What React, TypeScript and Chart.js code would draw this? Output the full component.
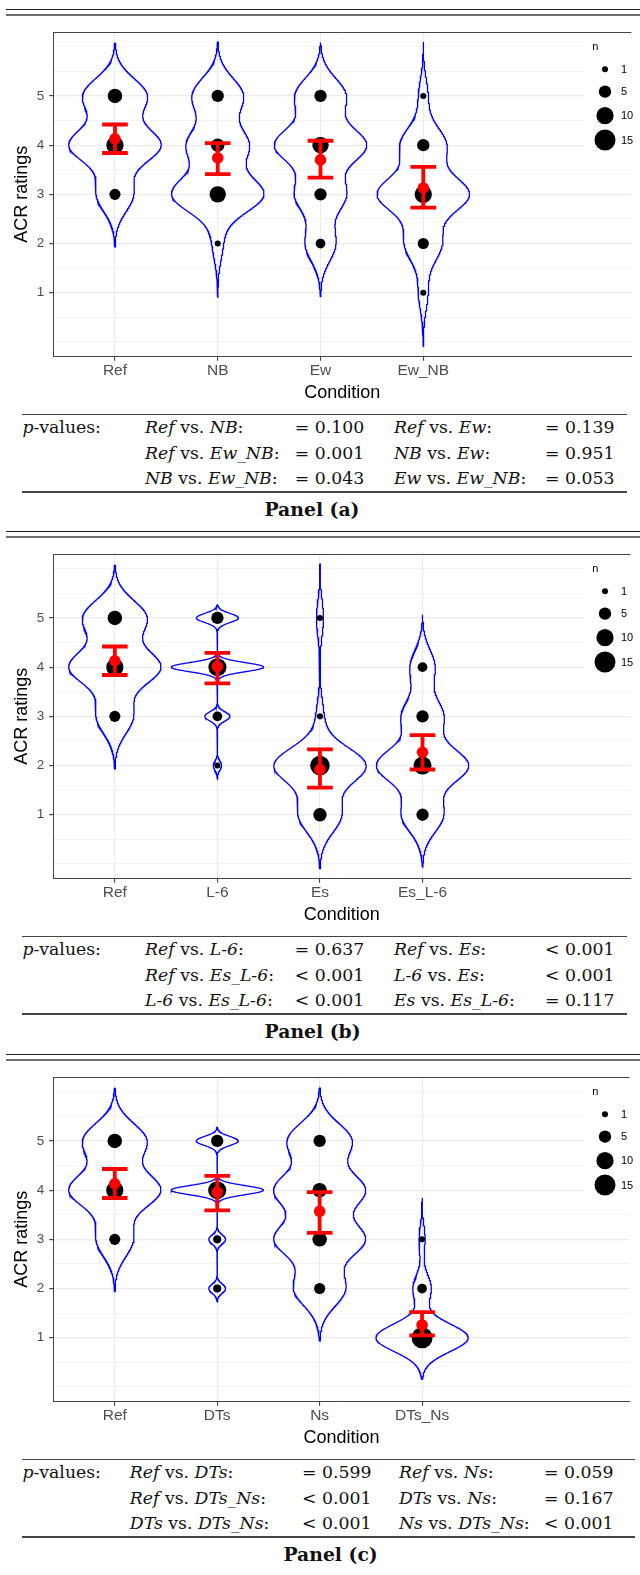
import React, { useEffect, useRef } from "react";
import { Chart, registerables } from "chart.js";

Chart.register(...registerables);

// ---------------- data ----------------
const RATINGS = [1, 2, 3, 4, 5];
const Y_LABELED = [1, 2, 3, 4, 5];
const Y_GRID = [0, 0.5, 1, 1.5, 2, 2.5, 3, 3.5, 4, 4.5, 5, 5.5, 6];
const SIZE_LEGEND = [1, 5, 10, 15];

// Panel (a)
const CONDITIONS_A = ["Ref", "NB", "Ew", "Ew_NB"];
const COUNTS_A_REF = [0, 0, 4, 10, 7];
const COUNTS_A_NB = [0, 1, 9, 6, 5];
const COUNTS_A_EW = [0, 3, 5, 9, 5];
const COUNTS_A_EWNB = [1, 4, 10, 5, 1];
const MEAN_A = [4.13, 3.74, 3.7, 3.13];
const CI_LOW_A = [3.84, 3.41, 3.34, 2.73];
const CI_HIGH_A = [4.42, 4.04, 4.09, 3.56];

// Panel (b)
const CONDITIONS_B = ["Ref", "L-6", "Es", "Es_L-6"];
const COUNTS_B_REF = [0, 0, 4, 10, 7];
const COUNTS_B_L6 = [0, 1, 3, 11, 5];
const COUNTS_B_ES = [6, 13, 1, 0, 1];
const COUNTS_B_ESL6 = [5, 11, 5, 3, 0];
const MEAN_B = [4.13, 4.01, 1.92, 2.27];
const CI_LOW_B = [3.84, 3.67, 1.55, 1.92];
const CI_HIGH_B = [4.42, 4.29, 2.33, 2.62];

// Panel (c)
const CONDITIONS_C = ["Ref", "DTs", "Ns", "DTs_Ns"];
const COUNTS_C_REF = [0, 0, 4, 10, 7];
const COUNTS_C_DTS = [0, 2, 2, 11, 5];
const COUNTS_C_NS = [0, 4, 7, 7, 5];
const COUNTS_C_DTSNS = [15, 3, 1, 0, 0];
const MEAN_C = [4.13, 3.96, 3.57, 1.26];
const CI_LOW_C = [3.84, 3.59, 3.13, 1.05];
const CI_HIGH_C = [4.43, 4.29, 3.96, 1.52];

// p-value tables: [first, second, value]
const PVALS_A = [
  [["Ref", "NB", "= 0.100"], ["Ref", "Ew", "= 0.139"]],
  [["Ref", "Ew_NB", "= 0.001"], ["NB", "Ew", "= 0.951"]],
  [["NB", "Ew_NB", "= 0.043"], ["Ew", "Ew_NB", "= 0.053"]],
];
const PVALS_B = [
  [["Ref", "L-6", "= 0.637"], ["Ref", "Es", "< 0.001"]],
  [["Ref", "Es_L-6", "< 0.001"], ["L-6", "Es", "< 0.001"]],
  [["L-6", "Es_L-6", "< 0.001"], ["Es", "Es_L-6", "= 0.117"]],
];
const PVALS_C = [
  [["Ref", "DTs", "= 0.599"], ["Ref", "Ns", "= 0.059"]],
  [["Ref", "DTs_Ns", "< 0.001"], ["DTs", "Ns", "= 0.167"]],
  [["DTs", "DTs_Ns", "< 0.001"], ["Ns", "DTs_Ns", "< 0.001"]],
];

// ---------------- styling / layout ----------------
const SANS = '"Liberation Sans", Arial, Helvetica, sans-serif';
const SERIF = '"DejaVu Serif", "Liberation Serif", serif';
const CANVAS_TOP = 18;
const CANVAS_W = 640;
const CANVAS_H = 390;
const PLOT_TOP = 32;
const PLOT_LEFT = 53.3;
const PLOT_BOTTOM = 356.7;
const X_MIN = 0.4;
const X_MAX = 6.025;
const Y_MIN = -0.3;
const Y_MAX = 6.3;
const VIOLIN_HALF = 0.45;
const CAP_HALF = 0.125;
const LEGEND_ROW_Y = [37.3, 59.7, 83.7, 108];

function sizeRadius(n: number) {
  return Math.sqrt(2 + 7.2 * n);
}

function expand(counts: number[]) {
  const out: number[] = [];
  counts.forEach((c, j) => {
    for (let k = 0; k < c; k++) out.push(RATINGS[j]);
  });
  return out;
}

function quantile7(sorted: number[], p: number) {
  const h = (sorted.length - 1) * p;
  const lo = Math.floor(h);
  const hi = Math.ceil(h);
  return sorted[lo] + (h - lo) * (sorted[hi] - sorted[lo]);
}

function bwNrd0(x: number[]) {
  const n = x.length;
  const mean = x.reduce((a, b) => a + b, 0) / n;
  const sd = Math.sqrt(x.reduce((a, b) => a + (b - mean) * (b - mean), 0) / (n - 1));
  const s = [...x].sort((a, b) => a - b);
  const iqr = quantile7(s, 0.75) - quantile7(s, 0.25);
  let lo = Math.min(sd, iqr / 1.34);
  if (!lo) lo = sd || Math.abs(s[0]) || 1;
  return 0.9 * lo * Math.pow(n, -0.2);
}

function violinOutline(counts: number[], xc: number) {
  const obs = expand(counts);
  const bw = bwNrd0(obs);
  const lo = Math.min(...obs) - 3 * bw;
  const hi = Math.max(...obs) + 3 * bw;
  const N = 512;
  const ys: number[] = [];
  const ds: number[] = [];
  for (let k = 0; k < N; k++) {
    const y = lo + ((hi - lo) * k) / (N - 1);
    let d = 0;
    for (const o of obs) {
      const z = (y - o) / bw;
      d += Math.exp(-0.5 * z * z);
    }
    ys.push(y);
    ds.push(d);
  }
  const m = Math.max(...ds);
  const right = ys.map((y, k) => ({ x: xc + (VIOLIN_HALF * ds[k]) / m, y }));
  const left = ys.map((y, k) => ({ x: xc - (VIOLIN_HALF * ds[k]) / m, y })).reverse();
  return [...right, ...left, right[0]];
}

const overlayPlugin = {
  id: "overlay",
  afterDraw(chart: any) {
    const ctx = chart.ctx as CanvasRenderingContext2D;
    const { top, left, right } = chart.chartArea;
    ctx.save();
    // size legend
    ctx.fillStyle = "#FFFFFF";
    ctx.fillRect(584, top + 2, right - 584, 122);
    ctx.fillStyle = "#000000";
    ctx.font = `11px ${SANS}`;
    ctx.textBaseline = "middle";
    ctx.textAlign = "left";
    ctx.fillText("n", 592.3, top + 15.3);
    SIZE_LEGEND.forEach((n, k) => {
      const cy = top + LEGEND_ROW_Y[k];
      ctx.beginPath();
      ctx.arc(605, cy, sizeRadius(n), 0, Math.PI * 2);
      ctx.fill();
      ctx.fillText(String(n), 621, cy + 0.5);
    });
    // top border of panel
    ctx.strokeStyle = "#444444";
    ctx.lineWidth = 1;
    ctx.beginPath();
    const yTop = Math.round(top) + 0.5;
    ctx.moveTo(left, yTop);
    ctx.lineTo(right, yTop);
    ctx.stroke();
    ctx.restore();
  },
};

function buildConfig(conds: string[], counts: number[][], means: number[], lo: number[], hi: number[]) {
  const datasets: any[] = [];
  datasets.push({
    type: "scatter",
    data: means.map((m, i) => ({ x: i + 1, y: m })),
    pointRadius: 5.8,
    pointBackgroundColor: "#FF0000",
    pointBorderWidth: 0,
    borderWidth: 0,
    order: 0,
  });
  conds.forEach((_, i) => {
    const x = i + 1;
    const segs = [
      [{ x, y: lo[i] }, { x, y: hi[i] }],
      [{ x: x - CAP_HALF, y: lo[i] }, { x: x + CAP_HALF, y: lo[i] }],
      [{ x: x - CAP_HALF, y: hi[i] }, { x: x + CAP_HALF, y: hi[i] }],
    ];
    segs.forEach((s) =>
      datasets.push({
        type: "scatter",
        data: s,
        showLine: true,
        borderColor: "#FF0000",
        borderWidth: 3.8,
        pointRadius: 0,
        fill: false,
        order: 1,
      })
    );
  });
  const dots: any[] = [];
  counts.forEach((row, i) =>
    row.forEach((n, j) => {
      if (n > 0) dots.push({ x: i + 1, y: RATINGS[j], r: sizeRadius(n) });
    })
  );
  datasets.push({
    type: "bubble",
    data: dots,
    backgroundColor: "#000000",
    borderWidth: 0,
    order: 2,
  });
  counts.forEach((row, i) =>
    datasets.push({
      type: "scatter",
      data: violinOutline(row, i + 1),
      showLine: true,
      borderColor: "#0000FF",
      borderWidth: 1.3,
      pointRadius: 0,
      fill: false,
      tension: 0,
      order: 3,
    })
  );

  const isMajor = (v: number) => Y_LABELED.includes(v);

  return {
    type: "scatter",
    data: { datasets },
    plugins: [overlayPlugin],
    options: {
      animation: false,
      responsive: false,
      devicePixelRatio: 1,
      events: [],
      layout: { padding: { top: PLOT_TOP - CANVAS_TOP, right: 0, bottom: 0, left: 0 } },
      plugins: { legend: { display: false }, tooltip: { enabled: false } },
      scales: {
        x: {
          type: "linear",
          min: X_MIN,
          max: X_MAX,
          afterBuildTicks: (ax: any) => {
            ax.ticks = conds.map((_, i) => ({ value: i + 1 }));
          },
          afterFit: (ax: any) => {
            ax.height = CANVAS_TOP + CANVAS_H - PLOT_BOTTOM;
          },
          ticks: {
            autoSkip: false,
            maxRotation: 0,
            padding: 1,
            color: "#4D4D4D",
            font: { family: SANS, size: 15.5 },
            callback: (v: number) => conds[Math.round(v) - 1] ?? "",
          },
          grid: { color: "#EBEBEB", lineWidth: 1.1, tickLength: 4, tickColor: "#444444" },
          border: { display: true, color: "#444444", width: 1 },
          title: {
            display: true,
            text: "Condition",
            color: "#000000",
            font: { family: SANS, size: 18 },
            padding: { top: 0, bottom: 4.5 },
          },
        },
        y: {
          type: "linear",
          min: Y_MIN,
          max: Y_MAX,
          afterBuildTicks: (ax: any) => {
            ax.ticks = Y_GRID.map((v) => ({ value: v }));
          },
          afterFit: (ax: any) => {
            ax.width = PLOT_LEFT;
          },
          ticks: {
            autoSkip: false,
            padding: 5,
            color: "#4D4D4D",
            font: { family: SANS, size: 13.5 },
            callback: (v: number) => (isMajor(v) ? String(v) : ""),
          },
          grid: {
            color: (c: any) => (c.tick && isMajor(c.tick.value) ? "#EBEBEB" : "#F2F2F2"),
            lineWidth: (c: any) => (c.tick && isMajor(c.tick.value) ? 1.2 : 0.9),
            tickLength: 4,
            tickColor: (c: any) => (c.tick && isMajor(c.tick.value) ? "#444444" : "rgba(0,0,0,0)"),
          },
          border: { display: true, color: "#444444", width: 1 },
          title: {
            display: true,
            text: "ACR ratings",
            color: "#000000",
            font: { family: SANS, size: 18 },
            padding: { top: 10.9, bottom: 0 },
          },
        },
      },
    },
  };
}

type PanelProps = {
  top: number;
  conds: string[];
  counts: number[][];
  means: number[];
  lo: number[];
  hi: number[];
  pvals: string[][][];
  cols: number[];
  lineRight: number;
  label: string;
  labelCenter: number;
};

function Pair({ a, b }: { a: string; b: string }) {
  return (
    <span>
      <i>{a}</i> vs. <i>{b}</i>:
    </span>
  );
}

function Panel(p: PanelProps) {
  const ref = useRef<HTMLCanvasElement | null>(null);
  useEffect(() => {
    if (!ref.current) return;
    const chart = new Chart(ref.current, buildConfig(p.conds, p.counts, p.means, p.lo, p.hi) as any);
    return () => chart.destroy();
  }, []);

  const rowY = [426.7, 452.7, 478.3];
  const cell = (left: number, y: number, content: any, key: string) => (
    <div
      key={key}
      style={{
        position: "absolute",
        left,
        top: y - 11,
        height: 22,
        lineHeight: "22px",
        fontFamily: SERIF,
        fontSize: 17.3,
        color: "#111",
        whiteSpace: "nowrap",
      }}
    >
      {content}
    </div>
  );

  return (
    <div style={{ position: "absolute", left: 0, top: p.top, width: 640, height: 522 }}>
      <div style={{ position: "absolute", left: 6, top: 8.5, width: 634, height: 1.6, background: "#222" }} />
      <div style={{ position: "absolute", left: 6, top: 14.2, width: 634, height: 2, background: "#707070" }} />
      <canvas
        ref={ref}
        width={CANVAS_W}
        height={CANVAS_H}
        style={{ position: "absolute", left: 0, top: CANVAS_TOP, width: CANVAS_W, height: CANVAS_H }}
      />
      <div style={{ position: "absolute", left: 22, top: 413.6, width: p.lineRight - 22, height: 1.5, background: "#444" }} />
      {cell(22.4, rowY[0], <span><i>p</i>-values:</span>, "pv")}
      {p.pvals.map((row, r) =>
        row.map((c, k) => (
          <React.Fragment key={`${r}-${k}`}>
            {cell(p.cols[k * 2], rowY[r], <Pair a={c[0]} b={c[1]} />, `l${r}${k}`)}
            {cell(p.cols[k * 2 + 1], rowY[r], <span>{c[2]}</span>, `v${r}${k}`)}
          </React.Fragment>
        ))
      )}
      <div style={{ position: "absolute", left: 22, top: 491, width: p.lineRight - 22, height: 1.5, background: "#444" }} />
      <div
        style={{
          position: "absolute",
          left: p.labelCenter - 100,
          width: 200,
          top: 498,
          height: 22,
          lineHeight: "22px",
          textAlign: "center",
          fontFamily: SERIF,
          fontWeight: "bold",
          fontSize: 18.8,
          color: "#111",
        }}
      >
        {p.label}
      </div>
    </div>
  );
}

export default function App() {
  return (
    <div style={{ position: "absolute", left: 0, top: 0, width: 640, height: 1575, background: "#fff", overflow: "hidden" }}>
      <Panel
        top={0}
        conds={CONDITIONS_A}
        counts={[COUNTS_A_REF, COUNTS_A_NB, COUNTS_A_EW, COUNTS_A_EWNB]}
        means={MEAN_A}
        lo={CI_LOW_A}
        hi={CI_HIGH_A}
        pvals={PVALS_A}
        cols={[145, 294.7, 394, 545]}
        lineRight={626.5}
        label="Panel (a)"
        labelCenter={312}
      />
      <Panel
        top={522}
        conds={CONDITIONS_B}
        counts={[COUNTS_B_REF, COUNTS_B_L6, COUNTS_B_ES, COUNTS_B_ESL6]}
        means={MEAN_B}
        lo={CI_LOW_B}
        hi={CI_HIGH_B}
        pvals={PVALS_B}
        cols={[145, 294.7, 394, 545]}
        lineRight={626.5}
        label="Panel (b)"
        labelCenter={312.6}
      />
      <Panel
        top={1045}
        conds={CONDITIONS_C}
        counts={[COUNTS_C_REF, COUNTS_C_DTS, COUNTS_C_NS, COUNTS_C_DTSNS]}
        means={MEAN_C}
        lo={CI_LOW_C}
        hi={CI_HIGH_C}
        pvals={PVALS_C}
        cols={[129.8, 302, 399, 544]}
        lineRight={635}
        label="Panel (c)"
        labelCenter={330.6}
      />
    </div>
  );
}
